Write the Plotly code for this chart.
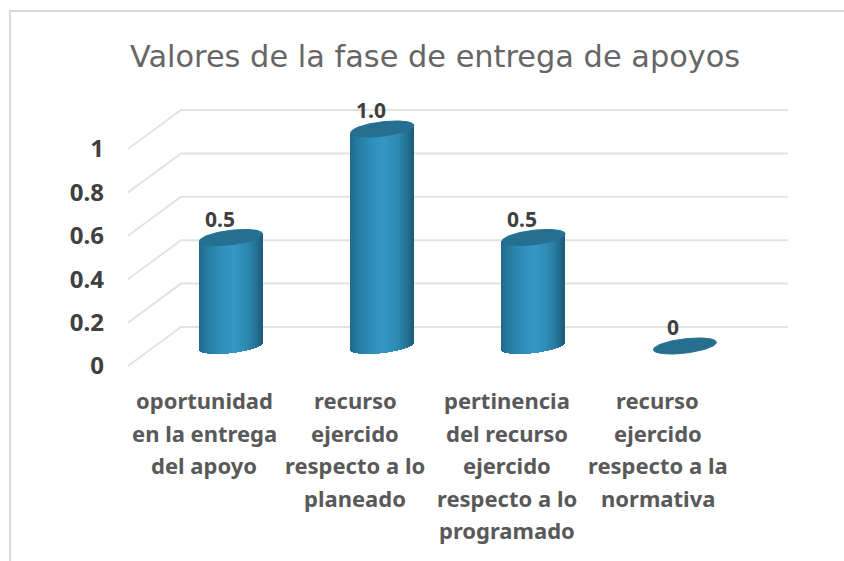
import numpy as np
import plotly.graph_objects as go

TITLE = "Valores de la fase de entrega de apoyos"
categories = [
    "oportunidad<br>en la entrega<br>del apoyo",
    "recurso<br>ejercido<br>respecto a lo<br>planeado",
    "pertinencia<br>del recurso<br>ejercido<br>respecto a lo<br>programado",
    "recurso<br>ejercido<br>respecto a la<br>normativa",
]
values = [0.5, 1.0, 0.5, 0.0]
value_labels = ["0.5", "1.0", "0.5", "0"]
y_ticks = [0, 0.2, 0.4, 0.6, 0.8, 1]
y_tick_labels = ["0", "0.2", "0.4", "0.6", "0.8", "1"]

# --- canvas geometry (pixels) ---
W, H = 844, 561
ML = 112
X0_PX, X_UNIT = 231.0, 151.3      # first bar centre, px per category
Y0_PX, Y_UNIT = 366.0, 217.0      # front-plane zero, px per unit
x_px = lambda p: (p - X0_PX) / X_UNIT
y_px = lambda p: (Y0_PX - p) / Y_UNIT

DEPTH_BAR = 20 / Y_UNIT           # bar plane above the front plane
DEPTH_BACK = 39 / Y_UNIT          # back wall above the front plane
HALF_W = 31.5 / X_UNIT
A = 31.5                          # ellipse half-width, px
B = 7.2                           # ellipse half-height, px
TILT = 3.6                        # right side rise, px

stops = [(0, "#1f6a8c"), (0.12, "#267ba0"), (0.35, "#2f8fba"), (0.55, "#3498c5"),
         (0.78, "#2c86ad"), (0.92, "#236f92"), (1, "#1c5a78")]
hexrgb = lambda h: np.array([int(h[i:i + 2], 16) for i in (1, 3, 5)], float)


def shade(t):
    pos = [s[0] for s in stops]
    rgb = [np.interp(t, pos, [hexrgb(s[1])[k] for s in stops]) for k in range(3)]
    return "rgb(%d,%d,%d)" % tuple(round(c) for c in rgb)


fig = go.Figure()

# gridlines: floor-to-wall edge on the left, back wall to the right (under the bars)
shapes = []
for v in y_ticks:
    shapes.append(dict(
        type="path", xref="x", yref="y", layer="below",
        path="M %f %f L %f %f L %f %f" % (x_px(128), v, x_px(181), v + DEPTH_BACK,
                                          x_px(788), v + DEPTH_BACK),
        line=dict(color="#e2e2e2", width=2)))

# cylinders: thin vertical strips shaded across the width
N = 63
centres = np.arange(len(values), dtype=float)
vals = np.array(values)
for i in range(N):
    t = (i + 0.5) / N
    u = 2 * t - 1
    # px below the bar's centre line at the foot, and px above it at the cap
    lower = B * np.sqrt(max(1 - u * u, 0)) - TILT * u
    upper = TILT * u
    show = vals > 0
    fig.add_trace(go.Bar(
        x=(centres + u * HALF_W)[show],
        y=(vals + (lower + upper) / Y_UNIT)[show],
        base=DEPTH_BAR - lower / Y_UNIT,
        width=(2.0 * HALF_W / N) * 1.6,
        marker=dict(color=shade(t), line=dict(width=0)),
        hoverinfo="skip", showlegend=False))

# elliptical caps
th = np.linspace(0, 2 * np.pi, 90)
for c, v in zip(centres, values):
    px_x = A * np.cos(th)
    px_y = B * np.sin(th) + TILT * np.cos(th)
    fig.add_trace(go.Scatter(
        x=c + px_x / X_UNIT, y=v + DEPTH_BAR + px_y / Y_UNIT,
        mode="lines", fill="toself", fillcolor="#256f90",
        line=dict(color="#256f90", width=1),
        hoverinfo="skip", showlegend=False))

annotations = []
# value labels
LABEL_DX = [-11, -11, -12, -12]
for c, v, txt, dx in zip(centres, values, value_labels, LABEL_DX):
    annotations.append(dict(
        x=c, y=v + DEPTH_BAR, xref="x", yref="y", text=txt, showarrow=False,
        xshift=dx, yshift=19, font=dict(family="Noto Sans", size=21, color="#404040", weight="bold")))

# category labels, one annotation per line to hold the wide line spacing
LINE_H = 32.6
for c, cat in zip(centres, categories):
    for k, line in enumerate(cat.split("<br>")):
        annotations.append(dict(
            x=c, y=y_px(400 + k * LINE_H), xref="x", yref="y", text=line, showarrow=False,
            xshift=-27, font=dict(family="Noto Sans", size=22, color="#595959", weight="bold")))

# title
annotations.append(dict(
    x=x_px(435), y=y_px(56), xref="x", yref="y", text=TITLE, showarrow=False,
    font=dict(family="DejaVu Sans", size=30.4, color="#666666")))

px_paper_x = lambda p: (p - ML) / (W - ML)
px_paper_y = lambda p: 1 - p / H
shapes.append(dict(type="path", xref="paper", yref="paper", layer="below",
                   path="M %f %f L %f %f L %f %f" % (
                       px_paper_x(10), px_paper_y(H), px_paper_x(10), px_paper_y(11),
                       px_paper_x(W), px_paper_y(11)),
                   line=dict(color="#d9d9d9", width=2)))

fig.update_layout(
    width=W, height=H, autosize=False,
    margin=dict(l=ML, r=0, t=0, b=0),
    paper_bgcolor="white", plot_bgcolor="white",
    barmode="overlay", bargap=0,
    showlegend=False,
    annotations=annotations, shapes=shapes,
    xaxis=dict(range=[x_px(ML), x_px(W)], visible=False, fixedrange=True),
    yaxis=dict(range=[y_px(H), y_px(0)], tickmode="array", tickvals=y_ticks, ticktext=y_tick_labels,
               showgrid=False, zeroline=False, showline=False, ticks="", fixedrange=True,
               ticklabelstandoff=7,
               tickfont=dict(family="Noto Sans", size=24, color="#404040", weight="bold")),
)
fig.write_html("out.html", config={"displayModeBar": False},
               post_script="document.body.style.margin='0';document.documentElement.style.overflow='hidden';")
